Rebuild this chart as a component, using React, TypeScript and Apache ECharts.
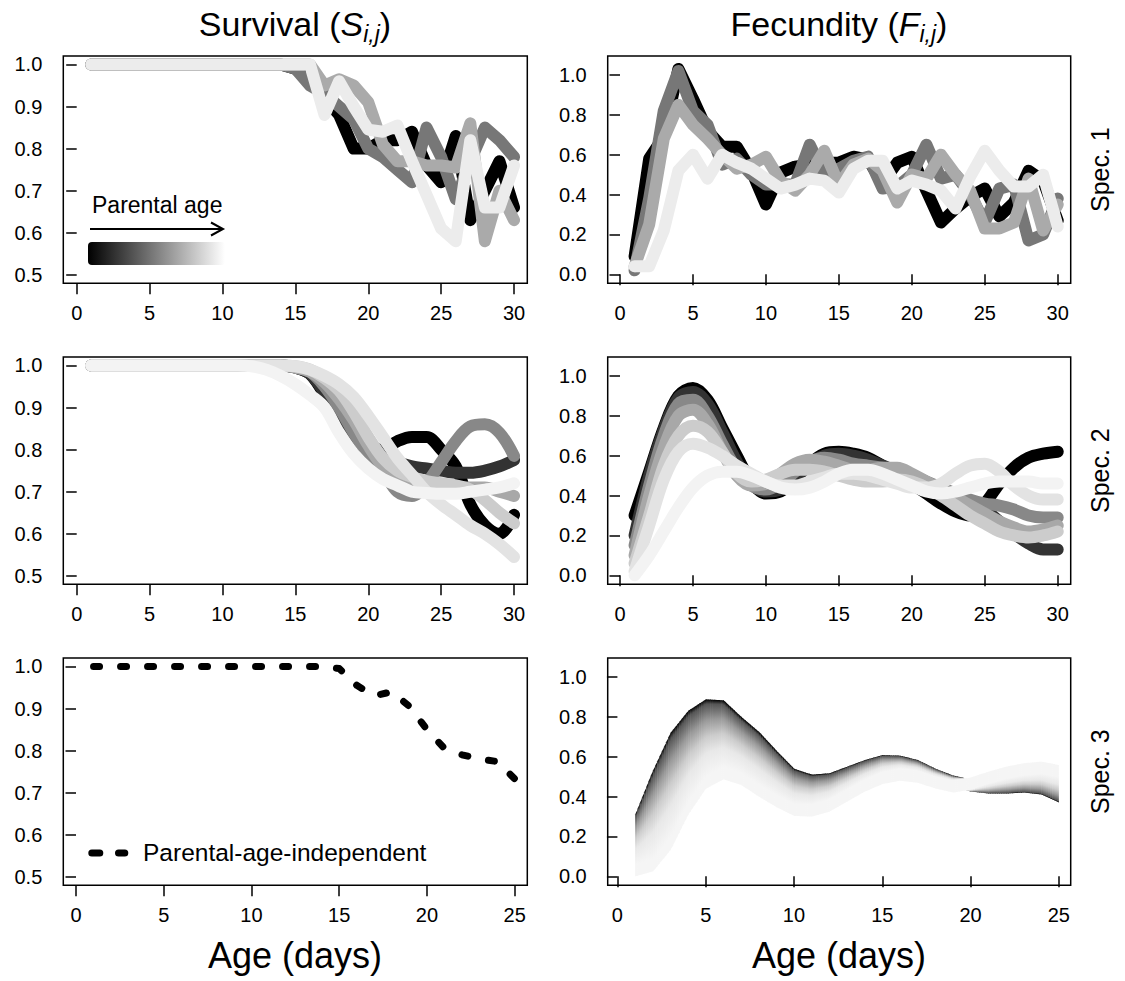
import React, { useEffect, useRef } from "react";
import * as echarts from "echarts";

// ---------- data ----------
const ages30 = [1, 2, 3, 4, 5, 6, 7, 8, 9, 10, 11, 12, 13, 14, 15, 16, 17, 18, 19, 20, 21, 22, 23, 24, 25, 26, 27, 28, 29, 30];
const ages25 = [1, 2, 3, 4, 5, 6, 7, 8, 9, 10, 11, 12, 13, 14, 15, 16, 17, 18, 19, 20, 21, 22, 23, 24, 25];

const xTicks30 = [0, 5, 10, 15, 20, 25, 30];
const xTicks25 = [0, 5, 10, 15, 20, 25];
const survTicks = [0.5, 0.6, 0.7, 0.8, 0.9, 1.0];
const fecTicks = [0, 0.2, 0.4, 0.6, 0.8, 1.0];

// Spec. 1 survival (4 parental ages)
const s1Black = [1, 1, 1, 1, 1, 1, 1, 1, 1, 1, 1, 1, 1, 1, 0.99, 0.96, 0.92, 0.88, 0.80, 0.80, 0.82, 0.82, 0.84, 0.76, 0.72, 0.83, 0.63, 0.70, 0.77, 0.66];
const s1Dark = [1, 1, 1, 1, 1, 1, 1, 1, 1, 1, 1, 1, 1, 1, 0.99, 0.95, 0.93, 0.90, 0.87, 0.80, 0.78, 0.75, 0.72, 0.85, 0.78, 0.68, 0.77, 0.85, 0.82, 0.78];
const s1Mid = [1, 1, 1, 1, 1, 1, 1, 1, 1, 1, 1, 1, 1, 1, 1, 1, 0.95, 0.965, 0.95, 0.91, 0.81, 0.77, 0.77, 0.76, 0.76, 0.755, 0.86, 0.58, 0.70, 0.63];
const s1Light = [1, 1, 1, 1, 1, 1, 1, 1, 1, 1, 1, 1, 1, 1, 1, 1, 0.88, 0.96, 0.90, 0.845, 0.84, 0.855, 0.77, 0.69, 0.61, 0.58, 0.82, 0.66, 0.66, 0.76];

// Spec. 1 fecundity
const f1Black = [0.09, 0.58, 0.69, 1.03, 0.88, 0.72, 0.64, 0.64, 0.52, 0.35, 0.51, 0.54, 0.55, 0.56, 0.56, 0.59, 0.575, 0.46, 0.56, 0.59, 0.42, 0.26, 0.33, 0.39, 0.43, 0.29, 0.36, 0.52, 0.47, 0.27];
const f1Dark = [0.02, 0.38, 0.82, 1.02, 0.82, 0.75, 0.55, 0.58, 0.50, 0.45, 0.45, 0.45, 0.65, 0.50, 0.53, 0.57, 0.59, 0.43, 0.44, 0.50, 0.65, 0.48, 0.50, 0.40, 0.26, 0.43, 0.45, 0.17, 0.20, 0.38];
const f1Mid = [0.04, 0.25, 0.68, 0.85, 0.75, 0.68, 0.60, 0.53, 0.55, 0.59, 0.47, 0.42, 0.50, 0.62, 0.45, 0.55, 0.58, 0.52, 0.36, 0.50, 0.48, 0.60, 0.50, 0.42, 0.23, 0.23, 0.26, 0.48, 0.22, 0.35];
const f1Light = [0.04, 0.04, 0.22, 0.52, 0.60, 0.48, 0.60, 0.56, 0.53, 0.48, 0.43, 0.45, 0.48, 0.47, 0.41, 0.53, 0.57, 0.57, 0.43, 0.47, 0.45, 0.42, 0.33, 0.49, 0.62, 0.52, 0.44, 0.44, 0.50, 0.24];

// Spec. 2 survival (7 parental ages, dark -> light)
const s2L1 = [1, 1, 1, 1, 1, 1, 1, 1, 1, 1, 1, 1, 1, 1, 0.995, 0.98, 0.93, 0.86, 0.82, 0.80, 0.80, 0.82, 0.83, 0.83, 0.80, 0.76, 0.67, 0.62, 0.60, 0.645];
const s2L2 = [1, 1, 1, 1, 1, 1, 1, 1, 1, 1, 1, 1, 1, 1, 0.995, 0.98, 0.935, 0.88, 0.83, 0.80, 0.78, 0.77, 0.76, 0.755, 0.75, 0.745, 0.745, 0.75, 0.76, 0.775];
const s2L3 = [1, 1, 1, 1, 1, 1, 1, 1, 1, 1, 1, 1, 1, 1, 0.995, 0.985, 0.95, 0.90, 0.84, 0.79, 0.75, 0.70, 0.69, 0.72, 0.77, 0.82, 0.855, 0.86, 0.84, 0.785];
const s2L4 = [1, 1, 1, 1, 1, 1, 1, 1, 1, 1, 1, 1, 1, 1, 0.995, 0.985, 0.96, 0.92, 0.87, 0.81, 0.76, 0.73, 0.72, 0.715, 0.71, 0.71, 0.71, 0.71, 0.70, 0.69];
const s2L5 = [1, 1, 1, 1, 1, 1, 1, 1, 1, 1, 1, 1, 1, 1, 0.998, 0.99, 0.97, 0.94, 0.89, 0.83, 0.78, 0.75, 0.735, 0.725, 0.72, 0.715, 0.705, 0.68, 0.65, 0.625];
const s2L6 = [1, 1, 1, 1, 1, 1, 1, 1, 1, 1, 1, 1, 1, 1, 0.998, 0.99, 0.975, 0.955, 0.925, 0.88, 0.83, 0.78, 0.74, 0.70, 0.67, 0.645, 0.62, 0.60, 0.575, 0.545];
const s2L7 = [1, 1, 1, 1, 1, 1, 1, 1, 1, 1, 1, 0.998, 0.99, 0.975, 0.955, 0.93, 0.90, 0.84, 0.79, 0.755, 0.73, 0.715, 0.70, 0.697, 0.695, 0.695, 0.70, 0.705, 0.71, 0.72];

// Spec. 2 fecundity
const f2L1 = [0.30, 0.52, 0.74, 0.90, 0.94, 0.88, 0.74, 0.60, 0.47, 0.41, 0.42, 0.48, 0.56, 0.61, 0.62, 0.61, 0.59, 0.55, 0.51, 0.46, 0.41, 0.36, 0.32, 0.30, 0.36, 0.46, 0.54, 0.59, 0.61, 0.62];
const f2L2 = [0.20, 0.50, 0.73, 0.89, 0.92, 0.86, 0.72, 0.57, 0.46, 0.42, 0.43, 0.49, 0.56, 0.60, 0.61, 0.60, 0.58, 0.55, 0.52, 0.48, 0.44, 0.41, 0.38, 0.36, 0.33, 0.27, 0.21, 0.16, 0.13, 0.13];
const f2L3 = [0.15, 0.45, 0.70, 0.86, 0.88, 0.80, 0.66, 0.53, 0.45, 0.43, 0.46, 0.52, 0.57, 0.59, 0.58, 0.56, 0.55, 0.54, 0.53, 0.50, 0.47, 0.44, 0.41, 0.38, 0.36, 0.35, 0.33, 0.30, 0.29, 0.29];
const f2L4 = [0.10, 0.40, 0.64, 0.80, 0.83, 0.76, 0.62, 0.50, 0.45, 0.46, 0.51, 0.56, 0.58, 0.57, 0.55, 0.53, 0.53, 0.54, 0.54, 0.51, 0.47, 0.43, 0.39, 0.35, 0.31, 0.27, 0.24, 0.22, 0.23, 0.25];
const f2L5 = [0.06, 0.30, 0.55, 0.70, 0.75, 0.72, 0.62, 0.51, 0.47, 0.48, 0.51, 0.53, 0.53, 0.52, 0.50, 0.48, 0.47, 0.47, 0.48, 0.47, 0.44, 0.40, 0.35, 0.30, 0.26, 0.22, 0.20, 0.19, 0.20, 0.22];
const f2L6 = [0.02, 0.25, 0.48, 0.62, 0.66, 0.64, 0.60, 0.55, 0.51, 0.47, 0.45, 0.45, 0.47, 0.49, 0.51, 0.51, 0.50, 0.48, 0.46, 0.44, 0.44, 0.46, 0.51, 0.55, 0.56, 0.52, 0.45, 0.40, 0.38, 0.38];
const f2L7 = [0.0, 0.10, 0.22, 0.34, 0.44, 0.50, 0.52, 0.52, 0.50, 0.47, 0.44, 0.43, 0.44, 0.47, 0.51, 0.53, 0.53, 0.51, 0.48, 0.45, 0.42, 0.41, 0.42, 0.44, 0.46, 0.47, 0.47, 0.47, 0.46, 0.46];

// Spec. 3 survival (parental-age-independent)
const s3Surv = [1, 1, 1, 1, 1, 1, 1, 1, 1, 1, 1, 1, 1, 1, 0.995, 0.955, 0.93, 0.94, 0.905, 0.85, 0.805, 0.79, 0.78, 0.774, 0.733];

// Spec. 3 fecundity: youngest (darkest) and oldest (lightest) parental-age curves
const f3Dark = [0.28, 0.50, 0.69, 0.80, 0.858, 0.853, 0.77, 0.695, 0.60, 0.51, 0.48, 0.487, 0.52, 0.553, 0.578, 0.575, 0.553, 0.51, 0.475, 0.455, 0.445, 0.445, 0.45, 0.44, 0.40];
const f3Light = [0.03, 0.055, 0.163, 0.34, 0.47, 0.517, 0.488, 0.43, 0.377, 0.333, 0.33, 0.355, 0.405, 0.455, 0.493, 0.51, 0.50, 0.47, 0.45, 0.465, 0.495, 0.52, 0.537, 0.545, 0.528];

// ---------- styling ----------
const FONT = "'Liberation Sans', Arial, Helvetica, sans-serif";
const C4 = ["#000000", "#777777", "#aaaaaa", "#ececec"];
const C7 = ["#000000", "#333333", "#888888", "#a8a8a8", "#cccccc", "#e3e3e3", "#f3f3f3"];
const RAMP: [number, string][] = [
  [0, "#000000"], [0.06, "#555555"], [0.27, "#999999"], [0.49, "#cccccc"], [0.7, "#e8e8e8"], [1, "#f5f5f5"],
];

const LEFT = 63.3, RIGHT = 607.7, WL = 464, WR = 463, H = 227.3;
const TOPS = [56, 357, 658];

const xRanges = [
  [-0.919, 30.91], [-0.843, 30.89],
  [-0.919, 30.91], [-0.843, 30.89],
  [-0.724, 25.72], [-0.55, 25.67],
];

function zip(xs: number[], ys: number[]) {
  return xs.map((x, i) => [x, ys[i]]);
}

function line(idx: number, xs: number[], ys: number[], color: string, smooth: boolean | number, width = 12) {
  return {
    type: "line",
    xAxisIndex: idx,
    yAxisIndex: idx,
    data: zip(xs, ys),
    symbol: "none",
    showSymbol: false,
    smooth,
    silent: true,
    lineStyle: { color, width, cap: "round", join: "round" },
  };
}

function bandSeries() {
  const half = 6;
  const slices = 8;
  return {
    type: "custom",
    xAxisIndex: 5,
    yAxisIndex: 5,
    coordinateSystem: "cartesian2d",
    silent: true,
    clip: true,
    data: ages25.map((a, i) => [a, f3Dark[i], f3Light[i]]),
    encode: { x: 0, y: [1, 2] },
    renderItem: (params: any, api: any) => {
      const i = params.dataIndex;
      if (i >= ages25.length - 1) return { type: "group", children: [] };
      const d0 = api.coord([ages25[i], f3Dark[i]]);
      const d1 = api.coord([ages25[i + 1], f3Dark[i + 1]]);
      const l0 = api.coord([ages25[i], f3Light[i]]);
      const l1 = api.coord([ages25[i + 1], f3Light[i + 1]]);
      const children: any[] = [];
      for (let k = 0; k < slices; k++) {
        const t0 = k / slices, t1 = (k + 1) / slices;
        const xa = d0[0] + (d1[0] - d0[0]) * t0;
        const xb = d0[0] + (d1[0] - d0[0]) * t1;
        const da = d0[1] + (d1[1] - d0[1]) * t0, db = d0[1] + (d1[1] - d0[1]) * t1;
        const la = l0[1] + (l1[1] - l0[1]) * t0, lb = l0[1] + (l1[1] - l0[1]) * t1;
        const topA = Math.min(da, la) - half, topB = Math.min(db, lb) - half;
        const botA = Math.max(da, la) + half, botB = Math.max(db, lb) + half;
        const darkTop = da + db <= la + lb;
        const sep = Math.abs((da + db) / 2 - (la + lb) / 2);
        const total = sep + 2 * half;
        const yTop = (topA + topB) / 2, yBot = (botA + botB) / 2;
        const y0 = darkTop ? yTop : yBot;
        const y1 = darkTop ? yBot : yTop;
        const stops = RAMP.map(([f, c]) => ({ offset: (f * sep) / total, color: c }));
        stops.push({ offset: 1, color: "#f5f5f5" });
        const extra = k === slices - 1 && i === ages25.length - 2 ? 0 : 0.6;
        children.push({
          type: "polygon",
          shape: { points: [[xa, topA], [xb + extra, topB], [xb + extra, botB], [xa, botA]] },
          style: { fill: new echarts.graphic.LinearGradient(xa, y0, xa, y1, stops, true) },
        });
      }
      return { type: "group", children };
    },
  };
}

function buildOption() {
  const grids = [0, 1, 2, 3, 4, 5].map((i) => ({
    left: i % 2 === 0 ? LEFT : RIGHT,
    top: TOPS[Math.floor(i / 2)],
    width: i % 2 === 0 ? WL : WR,
    height: H,
    show: true,
    borderColor: "#000",
    borderWidth: 1.5,
    backgroundColor: "transparent",
    containLabel: false,
  }));
  const xAxes = [0, 1, 2, 3, 4, 5].map((i) => {
    const ticks = i >= 4 ? xTicks25 : xTicks30;
    return {
      type: "value",
      gridIndex: i,
      min: xRanges[i][0],
      max: xRanges[i][1],
      axisLine: { show: false },
      splitLine: { show: false },
      axisTick: { show: true, length: 11, lineStyle: { color: "#000", width: 1.5 }, customValues: ticks },
      axisLabel: {
        show: true,
        customValues: ticks,
        color: "#000",
        fontSize: 20,
        fontFamily: FONT,
        margin: 20,
        formatter: (v: number) => String(Math.round(v)),
      },
    };
  });
  const yAxes = [0, 1, 2, 3, 4, 5].map((i) => {
    const surv = i % 2 === 0;
    const ticks = surv ? survTicks : fecTicks;
    return {
      type: "value",
      gridIndex: i,
      min: surv ? 0.48 : -0.045,
      max: surv ? 1.02 : 1.095,
      axisLine: { show: false },
      splitLine: { show: false },
      axisTick: { show: true, length: 10.5, lineStyle: { color: "#000", width: 1.5 }, customValues: ticks },
      axisLabel: {
        show: true,
        customValues: ticks,
        color: "#000",
        fontSize: 20,
        fontFamily: FONT,
        margin: 21,
        formatter: (v: number) => Number(v).toFixed(1),
      },
    };
  });

  const series: any[] = [];
  [s1Black, s1Dark, s1Mid, s1Light].forEach((ys, k) => series.push(line(0, ages30, ys, C4[k], false)));
  [f1Black, f1Dark, f1Mid, f1Light].forEach((ys, k) => series.push(line(1, ages30, ys, C4[k], false)));
  [s2L1, s2L2, s2L3, s2L4, s2L5, s2L6, s2L7].forEach((ys, k) => series.push(line(2, ages30, ys, C7[k], 0.35)));
  [f2L1, f2L2, f2L3, f2L4, f2L5, f2L6, f2L7].forEach((ys, k) => series.push(line(3, ages30, ys, C7[k], 0.35)));
  series.push({
    type: "line",
    xAxisIndex: 4,
    yAxisIndex: 4,
    data: zip(ages25, s3Surv),
    symbol: "none",
    smooth: false,
    silent: true,
    lineStyle: { color: "#000", width: 7, type: [6, 21], cap: "round", join: "round" },
  });
  series.push(bandSeries());

  const rich = () => ({
    n: { fontSize: 34, fontFamily: FONT, fill: "#000", lineHeight: 42 },
    i: { fontSize: 34, fontFamily: FONT, fontStyle: "italic", fill: "#000", lineHeight: 42 },
    s: { fontSize: 23, fontFamily: FONT, fontStyle: "italic", fill: "#000", lineHeight: 21, verticalAlign: "bottom" },
  });

  const graphic: any[] = [
    {
      type: "text", x: 295, y: 24,
      style: { text: "{n|Survival (}{i|S}{s|i,j}{n|)}", rich: rich(), align: "center", verticalAlign: "middle" },
    },
    {
      type: "text", x: 839, y: 24,
      style: { text: "{n|Fecundity (}{i|F}{s|i,j}{n|)}", rich: rich(), align: "center", verticalAlign: "middle" },
    },
    { type: "text", x: 295, y: 955, style: { text: "Age (days)", fontSize: 36, fontFamily: FONT, fill: "#000", align: "center", verticalAlign: "middle" } },
    { type: "text", x: 839, y: 955, style: { text: "Age (days)", fontSize: 36, fontFamily: FONT, fill: "#000", align: "center", verticalAlign: "middle" } },
    ...["Spec. 1", "Spec. 2", "Spec. 3"].map((t, k) => ({
      type: "text", x: 1100, y: TOPS[k] + H / 2, rotation: Math.PI / 2,
      style: { text: t, fontSize: 25, fontFamily: FONT, fill: "#000", align: "center", verticalAlign: "middle" },
    })),
    // legend: parental age
    { type: "text", x: 92, y: 205, style: { text: "Parental age", fontSize: 23, fontFamily: FONT, fill: "#000", align: "left", verticalAlign: "middle" } },
    { type: "line", shape: { x1: 90, y1: 229, x2: 222, y2: 229 }, style: { stroke: "#000", lineWidth: 2 } },
    { type: "polyline", shape: { points: [[211, 222.5], [223, 229], [211, 235.5]] }, style: { stroke: "#000", lineWidth: 2, fill: null } },
    {
      type: "rect", shape: { x: 88, y: 242, width: 137, height: 23, r: 4 },
      style: { fill: new echarts.graphic.LinearGradient(0, 0, 1, 0, [{ offset: 0, color: "#000000" }, { offset: 1, color: "#ffffff" }]) },
    },
    // legend: parental-age-independent
    { type: "line", shape: { x1: 91.8, y1: 853, x2: 99.8, y2: 853 }, style: { stroke: "#000", lineWidth: 7, lineCap: "round" } },
    { type: "line", shape: { x1: 118.5, y1: 853, x2: 124.8, y2: 853 }, style: { stroke: "#000", lineWidth: 7, lineCap: "round" } },
    { type: "text", x: 143, y: 852, style: { text: "Parental-age-independent", fontSize: 24.5, fontFamily: FONT, fill: "#000", align: "left", verticalAlign: "middle" } },
  ];

  return {
    animation: false,
    backgroundColor: "#ffffff",
    grid: grids,
    xAxis: xAxes,
    yAxis: yAxes,
    series,
    graphic,
  };
}

export default function App() {
  const ref = useRef<HTMLDivElement>(null);
  useEffect(() => {
    document.body.style.margin = "0";
    const chart = echarts.init(ref.current as HTMLDivElement, null, { renderer: "svg" });
    chart.setOption(buildOption() as any);
    return () => chart.dispose();
  }, []);
  return <div ref={ref} style={{ width: 1125, height: 981, position: "absolute", left: 0, top: 0 }} />;
}
